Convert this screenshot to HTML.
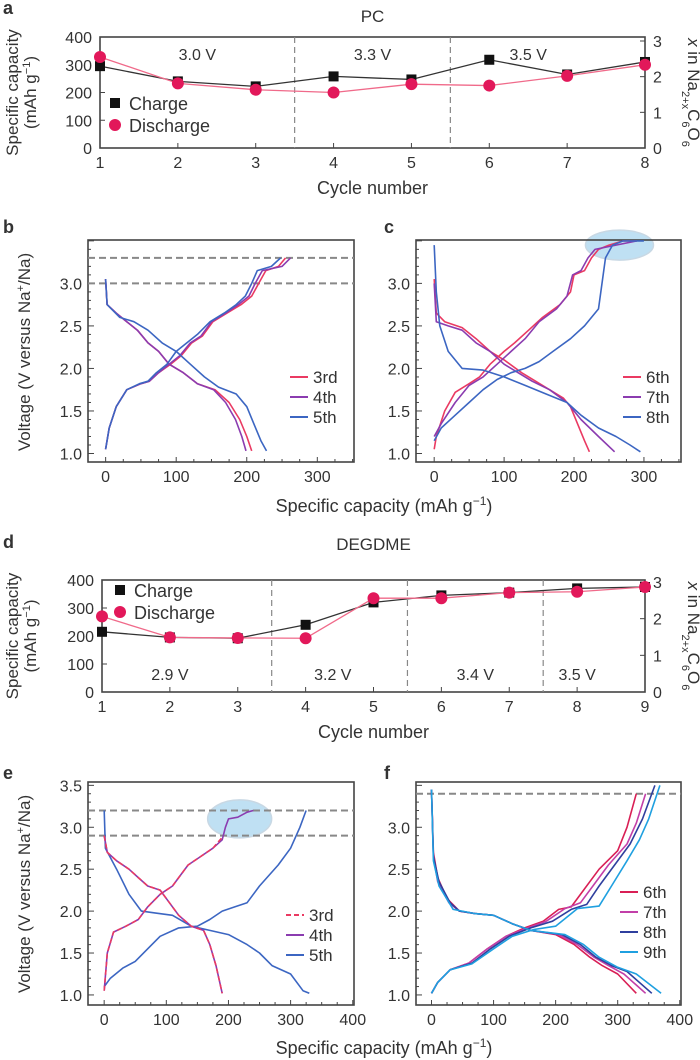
<!DOCTYPE html>
<html><head><meta charset="utf-8"><style>
html,body{margin:0;padding:0;background:#fff;}
svg{display:block;font-family:"Liberation Sans",sans-serif;}
text{fill:#333;}
</style></head><body>
<svg id="fig" width="700" height="1060" viewBox="0 0 700 1060"></svg>
<script>
// ---- Panel a data (PC) ----
const aCycles=[1,2,3,4,5,6,7,8];
const aCharge=[295,240,222,258,247,318,265,310];
const aDischarge=[328,233,210,200,230,225,260,300];
const aVoltLabels=["3.0 V","3.3 V","3.5 V"];
const aVoltPos=[2.25,4.5,6.5];
const aDividers=[3.5,5.5];
// ---- Panel d data (DEGDME) ----
const dCycles=[1,2,3,4,5,6,7,8,9];
const dCharge=[215,195,192,240,320,345,355,370,375];
const dDischarge=[270,195,193,192,335,335,355,358,375];
const dVoltLabels=["2.9 V","3.2 V","3.4 V","3.5 V"];
const dVoltPos=[2.0,4.4,6.5,8.0];
const dDividers=[3.5,5.5,7.5];
const capTicks=[0,100,200,300,400];
const xTicks=[0,1,2,3];
// ---- Panel b curves ----
const b3c=[[0,1.05],[5,1.3],[15,1.55],[30,1.75],[50,1.82],[62,1.85],[75,1.95],[92,2.05],[107,2.15],[122,2.3],[137,2.38],[152,2.55],[172,2.65],[192,2.75],[207,2.85],[217,3.0],[227,3.15],[245,3.2],[255,3.3]];
const b4c=[[0,1.05],[5,1.3],[15,1.55],[30,1.75],[50,1.82],[62,1.85],[75,1.95],[90,2.05],[105,2.15],[120,2.3],[135,2.38],[150,2.55],[170,2.65],[188,2.75],[203,2.85],[212,3.0],[222,3.15],[250,3.2],[262,3.3]];
const b5c=[[0,1.05],[5,1.3],[15,1.55],[30,1.75],[48,1.82],[60,1.85],[72,1.95],[87,2.05],[100,2.2],[115,2.3],[130,2.4],[148,2.55],[168,2.65],[185,2.75],[198,2.85],[207,3.0],[215,3.15],[235,3.2],[248,3.3]];
const b3d=[[0,3.05],[2,2.75],[15,2.65],[30,2.55],[45,2.45],[60,2.3],[75,2.2],[90,2.05],[110,1.95],[130,1.82],[155,1.75],[175,1.6],[190,1.4],[200,1.2],[207,1.03]];
const b4d=[[0,3.05],[2,2.75],[15,2.65],[30,2.55],[45,2.45],[60,2.3],[75,2.2],[90,2.05],[110,1.95],[130,1.82],[153,1.75],[170,1.6],[184,1.4],[193,1.2],[199,1.03]];
const b5d=[[0,3.05],[2,2.75],[20,2.6],[40,2.55],[60,2.45],[80,2.3],[100,2.2],[120,2.05],[140,1.9],[160,1.78],[185,1.7],[200,1.55],[210,1.35],[220,1.15],[228,1.03]];
// ---- Panel c curves ----
const c6c=[[0,1.05],[3,1.2],[15,1.5],[30,1.72],[50,1.82],[65,1.9],[80,2.05],[100,2.2],[115,2.3],[135,2.45],[155,2.6],[180,2.75],[195,2.9],[200,3.1],[215,3.15],[225,3.3],[235,3.4],[250,3.45],[270,3.5],[290,3.5]];
const c7c=[[0,1.2],[10,1.35],[30,1.6],[50,1.8],[70,1.9],[90,2.05],[110,2.2],[130,2.35],[150,2.55],[175,2.7],[190,2.85],[198,3.1],[210,3.15],[220,3.3],[230,3.4],[260,3.45],[290,3.5]];
const c8c=[[0,1.15],[10,1.3],[30,1.45],[50,1.6],[70,1.75],[90,1.87],[110,1.95],[130,2.0],[150,2.08],[170,2.2],[195,2.35],[215,2.5],[235,2.7],[240,3.0],[245,3.3],[255,3.45],[270,3.5],[300,3.5]];
const c6d=[[0,3.05],[3,2.65],[15,2.55],[40,2.48],[60,2.35],[80,2.2],[100,2.1],[125,1.95],[145,1.85],[165,1.75],[185,1.65],[195,1.55],[205,1.35],[215,1.15],[222,1.02]];
const c7d=[[0,3.0],[3,2.55],[20,2.5],[40,2.45],[60,2.3],[80,2.2],[100,2.05],[120,1.95],[140,1.85],[165,1.75],[190,1.6],[210,1.4],[235,1.2],[258,1.02]];
const c8d=[[0,3.45],[3,2.9],[8,2.5],[20,2.2],[40,2.0],[70,1.98],[100,1.9],[130,1.8],[160,1.7],[190,1.6],[210,1.45],[235,1.3],[260,1.2],[280,1.1],[295,1.02]];
// ---- Panel e curves ----
const e3c=[[0,1.05],[5,1.5],[15,1.75],[35,1.82],[55,1.9],[70,2.05],[90,2.2],[110,2.3],[120,2.4],[135,2.55],[155,2.65],[175,2.75],[190,2.88]];
const e4c=[[0,1.05],[5,1.5],[15,1.75],[35,1.82],[55,1.9],[70,2.05],[90,2.2],[110,2.3],[120,2.4],[135,2.55],[155,2.65],[175,2.75],[190,2.85],[195,3.0],[200,3.1],[215,3.12],[230,3.18],[240,3.2]];
const e3d=[[0,2.9],[5,2.7],[20,2.6],[40,2.5],[55,2.4],[70,2.3],[90,2.25],[105,2.1],[120,1.95],[140,1.82],[160,1.77],[170,1.6],[180,1.35],[190,1.02]];
const e4d=[[0,2.9],[5,2.7],[20,2.6],[40,2.5],[55,2.4],[70,2.3],[90,2.25],[105,2.1],[120,1.95],[140,1.82],[160,1.77],[170,1.6],[180,1.35],[190,1.02]];
const e5c=[[0,1.1],[10,1.2],[30,1.32],[50,1.4],[70,1.55],[90,1.7],[120,1.8],[150,1.82],[170,1.9],[190,2.0],[210,2.05],[230,2.1],[250,2.3],[280,2.55],[300,2.75],[315,3.0],[325,3.2]];
const e5d=[[0,3.2],[2,2.75],[20,2.5],[40,2.2],[60,2.0],[80,1.98],[110,1.95],[140,1.82],[170,1.77],[200,1.72],[230,1.6],[250,1.5],[270,1.35],[300,1.25],[320,1.05],[330,1.02]];
// ---- Panel f curves ----
const f6c=[[0,1.02],[10,1.15],[30,1.3],[60,1.38],[90,1.55],[120,1.7],[150,1.8],[180,1.88],[205,2.02],[225,2.05],[245,2.25],[270,2.5],[300,2.72],[315,3.0],[330,3.4]];
const f7c=[[0,1.02],[10,1.15],[30,1.3],[60,1.38],[90,1.55],[120,1.7],[155,1.8],[185,1.88],[215,2.03],[240,2.1],[260,2.3],[285,2.55],[315,2.8],[330,3.05],[345,3.4]];
const f8c=[[0,1.02],[10,1.15],[30,1.3],[65,1.38],[95,1.55],[125,1.7],[160,1.8],[195,1.88],[225,2.02],[250,2.08],[270,2.3],[295,2.55],[320,2.8],[340,3.1],[360,3.5]];
const f9c=[[0,1.02],[10,1.15],[30,1.3],[65,1.37],[100,1.55],[130,1.7],[165,1.78],[200,1.82],[235,2.03],[270,2.06],[290,2.3],[315,2.6],[335,2.85],[350,3.1],[368,3.5]];
const f6d=[[0,3.45],[3,2.7],[10,2.4],[25,2.15],[45,2.0],[70,1.97],[100,1.95],[130,1.85],[160,1.77],[200,1.72],[230,1.6],[255,1.45],[275,1.35],[300,1.25],[330,1.02]];
const f7d=[[0,3.45],[3,2.65],[10,2.35],[28,2.1],[45,2.0],[70,1.97],[100,1.95],[130,1.85],[160,1.77],[205,1.72],[235,1.6],[262,1.45],[285,1.35],[310,1.25],[345,1.02]];
const f8d=[[0,3.45],[3,2.65],[12,2.35],[30,2.1],[45,2.0],[70,1.97],[100,1.95],[130,1.85],[160,1.77],[210,1.72],[240,1.6],[265,1.45],[290,1.35],[315,1.28],[355,1.02]];
const f9d=[[0,3.45],[3,2.6],[12,2.3],[35,2.02],[70,1.97],[100,1.95],[130,1.85],[160,1.77],[215,1.72],[245,1.6],[270,1.45],[300,1.33],[330,1.25],[370,1.02]];

const NS="http://www.w3.org/2000/svg";
const svg=document.getElementById('fig');
function mk(tag,attrs,parent,txt){const e=document.createElementNS(NS,tag);for(const k in attrs)e.setAttribute(k,attrs[k]);if(txt!==undefined)e.textContent=txt;(parent||svg).appendChild(e);return e;}
function lin(d0,d1,r0,r1){return v=>r0+(v-d0)*(r1-r0)/(d1-d0);}

function label(x,y,t,size,anchor,weight){const e=mk('text',{x:x,y:y,'font-size':size||15,'text-anchor':anchor||'middle','font-weight':weight||'normal'},svg,t);

return e;}
function rotLabel(x,y,parts,size,ang){const e=mk('text',{x:x,y:y,'font-size':size,'text-anchor':'middle',transform:`rotate(${ang} ${x} ${y})`});
parts.forEach(p=>{const s=mk('tspan',p.sup?{'baseline-shift':'super','font-size':size*0.65}:p.sub?{'baseline-shift':'sub','font-size':size*0.65}:{},e,p.t);if(p.it)s.setAttribute('font-style','italic');});

return e;}

// ---------- cycle panels ----------
function cyclePanel(o){
  const X=lin(o.cycles[0],o.cycles[o.cycles.length-1],o.x0,o.x1), Y=lin(0,400,o.y1,o.y0);
  const g=mk('g',{});
  
  
  mk('rect',{x:o.x0,y:o.y0,width:o.x1-o.x0,height:o.y1-o.y0,fill:'none',stroke:'#444','stroke-width':1.6},g);
  o.cycles.forEach(c=>{mk('line',{x1:X(c),x2:X(c),y1:o.y1,y2:o.y1-5,stroke:'#444'},g);label(X(c),o.y1+20,c,16);});
  capTicks.forEach(v=>{mk('line',{x1:o.x0,x2:o.x0+5,y1:Y(v),y2:Y(v),stroke:'#444'},g);label(o.x0-8,Y(v)+6,v,16,'end');});
  const R=lin(0,3,o.y1,o.r3);
  xTicks.forEach(v=>{mk('line',{x1:o.x1,x2:o.x1-5,y1:R(v),y2:R(v),stroke:'#444'},g);label(o.x1+8,R(v)+6,v,16,'start');});
  o.div.forEach(c=>{const l=mk('line',{x1:X(c),x2:X(c),y1:o.y0,y2:o.y1,stroke:'#888','stroke-width':1.2,'stroke-dasharray':'6,4'},g);
    
    });
  o.vl.forEach((t,i)=>label(X(o.vp[i]),o.vy,t,16));
  const cp=mk('polyline',{points:o.cycles.map((c,i)=>X(c)+','+Y(o.charge[i])).join(' '),fill:'none',stroke:'#333','stroke-width':1.3},g);
  
  
  const dp=mk('polyline',{points:o.cycles.map((c,i)=>X(c)+','+Y(o.discharge[i])).join(' '),fill:'none',stroke:'#f06a8a','stroke-width':1.3},g);
  
  
  o.cycles.forEach((c,i)=>{const m=mk('rect',{x:X(c)-5,y:Y(o.charge[i])-5,width:10,height:10,fill:'#111'},g);
    
    });
  o.cycles.forEach((c,i)=>{const m=mk('circle',{cx:X(c),cy:Y(o.discharge[i]),r:6,fill:'#e2185a'},g);
    
    });
  const lr=mk('rect',{x:o.lx-5,y:o.ly-5,width:10,height:10,fill:'#111'});
  
  
  label(o.lx+14,o.ly+7,'Charge',18,'start');
  const lc=mk('circle',{cx:o.lx,cy:o.ly+22,r:6,fill:'#e2185a'});
  
  
  label(o.lx+14,o.ly+29,'Discharge',18,'start');
  label((o.x0+o.x1)/2,o.y1+46,'Cycle number',18);
  label((o.x0+o.x1)/2,o.ty,o.title,17);
  const cy=(o.y0+o.y1)/2;
  rotLabel(18,cy,[{t:'Specific capacity'}],17,-90);
  rotLabel(36,cy,[{t:'(mAh g'},{t:'−1',sup:1},{t:')'}],17,-90);
  rotLabel(688,cy,[{t:'x',it:1},{t:' in Na'},{t:'2+x',sub:1},{t:'C'},{t:'6',sub:1},{t:'O'},{t:'6',sub:1}],17,90);
}
cyclePanel({name:'panel-a-pc',cycles:aCycles,charge:aCharge,discharge:aDischarge,x0:100,x1:645,y0:37,y1:148,r3:41,div:aDividers,vl:aVoltLabels,vp:aVoltPos,vy:60,lx:115,ly:103,title:'PC',ty:22});
cyclePanel({name:'panel-d-degdme',cycles:dCycles,charge:dCharge,discharge:dDischarge,x0:102,x1:645,y0:580,y1:692,r3:582,div:dDividers,vl:dVoltLabels,vp:dVoltPos,vy:680,lx:120,ly:590,title:'DEGDME',ty:550});

// ---------- voltage profile panels ----------
function vPanel(o){
  const X=lin(o.c0,o.c1,o.x0,o.x1), Y=lin(o.v0,o.v1,o.y1,o.y0);
  const g=mk('g',{});
  
  
  o.ell&&mk('ellipse',{cx:X(o.ell[0]),cy:Y(o.ell[1]),rx:o.ell[2],ry:o.ell[3],fill:'#bfe0f3',stroke:'#c8d8e4','stroke-width':1.5},g);
  mk('rect',{x:o.x0,y:o.y0,width:o.x1-o.x0,height:o.y1-o.y0,fill:'none',stroke:'#444','stroke-width':1.6},g);
  o.xt.forEach(v=>label(X(v),o.y1+20,v,16));
  for(let v=0;v<=o.c1;v+=25){mk('line',{x1:X(v),x2:X(v),y1:o.y1,y2:o.y1-(v%100?3:5),stroke:'#444'},g);}
  for(let k=10;k<=35;k++){const v=k/10;if(Y(v)<o.y0)continue;mk('line',{x1:o.x0,x2:o.x0+(k%5?3:6),y1:Y(v),y2:Y(v),stroke:'#444'},g);}
  o.yt.forEach(v=>label(o.x0-6,Y(v)+6,v.toFixed(1),16,'end'));
  o.dash.forEach(v=>{const l=mk('line',{x1:o.x0,x2:o.x1,y1:Y(v),y2:Y(v),stroke:'#888','stroke-width':2,'stroke-dasharray':'7,4'},g);
    
    });
  const order=o.drawOrder||o.series.map((s,i)=>i);
  order.forEach(i=>{const s=o.series[i];s.curves.forEach(c=>{const p=mk('polyline',{points:c.map(q=>X(q[0]).toFixed(1)+','+Y(q[1]).toFixed(1)).join(' '),fill:'none',stroke:s.col,'stroke-width':1.6,'stroke-linejoin':'round','stroke-dasharray':s.dash||'none'},g);
    
    });});
  o.series.forEach((s,i)=>{const yy=o.ly+i*o.lg;
    const l=mk('line',{x1:o.lx,x2:o.lx+18,y1:yy,y2:yy,stroke:s.col,'stroke-width':2,'stroke-dasharray':s.dash||'none'});
    
    
    label(o.lx+23,yy+6,s.name,17,'start');});
}
const redC='#ea3a62',purC='#8b3cb0',bluC='#3c66c2';
vPanel({name:'panel-b',x0:88,x1:354,y0:240,y1:462,c0:-25,c1:352,v0:0.9,v1:3.51,xt:[0,100,200,300],yt:[1.0,1.5,2.0,2.5,3.0],dash:[3.3,3.0],lx:290,ly:377,lg:20,
 series:[{name:'3rd',col:redC,curves:[b3c,b3d]},{name:'4th',col:purC,curves:[b4c,b4d]},{name:'5th',col:bluC,curves:[b5c,b5d]}]});
vPanel({name:'panel-c',x0:416,x1:681,y0:240,y1:462,c0:-26,c1:353,v0:0.9,v1:3.51,xt:[0,100,200,300],yt:[1.0,1.5,2.0,2.5,3.0],dash:[],ell:[265,3.45,34,15],lx:623,ly:377,lg:20,
 series:[{name:'6th',col:redC,curves:[c6c,c6d]},{name:'7th',col:purC,curves:[c7c,c7d]},{name:'8th',col:bluC,curves:[c8c,c8d]}]});
vPanel({name:'panel-e',x0:88,x1:354,y0:782,y1:1005,c0:-26,c1:402,v0:0.88,v1:3.54,xt:[0,100,200,300,400],yt:[1.0,1.5,2.0,2.5,3.0,3.5],dash:[3.2,2.9],ell:[218,3.1,32,19],lx:286,ly:915,lg:20,drawOrder:[2,1,0],
 series:[{name:'3rd',col:redC,dash:'5,3',curves:[e3c,e3d]},{name:'4th',col:purC,curves:[e4c,e4d]},{name:'5th',col:bluC,curves:[e5c,e5d]}]});
vPanel({name:'panel-f',x0:416,x1:681,y0:782,y1:1005,c0:-25,c1:402,v0:0.88,v1:3.54,xt:[0,100,200,300,400],yt:[1.0,1.5,2.0,2.5,3.0],dash:[3.4],lx:620,ly:892,lg:20,
 series:[{name:'6th',col:'#d91f55',curves:[f6c,f6d]},{name:'7th',col:'#c23fa8',curves:[f7c,f7d]},{name:'8th',col:'#2f3f9e',curves:[f8c,f8d]},{name:'9th',col:'#1fa0e0',curves:[f9c,f9d]}]});

rotLabel(30,352,[{t:'Voltage (V versus Na'},{t:'+',sup:1},{t:'/Na)'}],17,-90);
rotLabel(30,894,[{t:'Voltage (V versus Na'},{t:'+',sup:1},{t:'/Na)'}],17,-90);
const t1=mk('text',{x:384,y:512,'font-size':18,'text-anchor':'middle'});
mk('tspan',{},t1,'Specific capacity (mAh g');mk('tspan',{'baseline-shift':'super','font-size':12},t1,'−1');mk('tspan',{},t1,')');


const t2=mk('text',{x:384,y:1054,'font-size':18,'text-anchor':'middle'});
mk('tspan',{},t2,'Specific capacity (mAh g');mk('tspan',{'baseline-shift':'super','font-size':12},t2,'−1');mk('tspan',{},t2,')');


[['a',3,14],['b',3,233],['c',384,233],['d',3,548],['e',3,779],['f',384,779]].forEach(p=>label(p[1],p[2],p[0],18,'start','bold'));
</script>
</body></html>
